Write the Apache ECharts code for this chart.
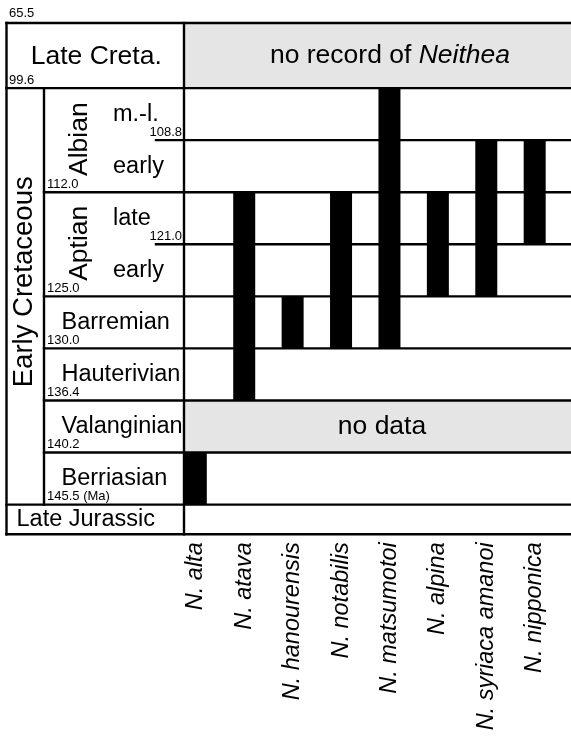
<!DOCTYPE html>
<html><head><meta charset="utf-8">
<script src="https://cdn.jsdelivr.net/npm/echarts@6/dist/echarts.min.js"></script>
<style>html,body{margin:0;padding:0;background:#fff}#c{width:571px;height:742px}</style>
</head><body><div id="c"></div>
<script>
// ---------------- data ----------------
const boundaryAges = ['65.5', '99.6', '108.8', '112.0', '121.0', '125.0', '130.0', '136.4', '140.2', '145.5 (Ma)'];
const intervals = ['m.-l. Albian', 'early Albian', 'late Aptian', 'early Aptian', 'Barremian', 'Hauterivian', 'Valanginian', 'Berriasian'];
const intervalLabels = ['m.-l.', 'early', 'late', 'early', 'Barremian', 'Hauterivian', 'Valanginian', 'Berriasian'];
const stageGroups = ['Albian', 'Aptian'];
const epochs = ['Late Creta.', 'Early Cretaceous', 'Late Jurassic'];
const species = ['N. alta', 'N. atava', 'N. hanourensis', 'N. notabilis', 'N. matsumotoi', 'N. alpina', 'N. syriaca amanoi', 'N. nipponica'];
const rangeTop = ['Berriasian', 'late Aptian', 'Barremian', 'late Aptian', 'm.-l. Albian', 'late Aptian', 'early Albian', 'early Albian'];
const rangeBase = ['Berriasian', 'Hauterivian', 'Barremian', 'Barremian', 'Barremian', 'early Aptian', 'early Aptian', 'late Aptian'];
const noDataIntervals = ['Valanginian'];
const noRecordText = ['no record of ', 'Neithea'];
const noDataText = 'no data';

// ---------------- layout ----------------
const FONT = "'Liberation Sans', Arial, Helvetica, sans-serif";
const ROW_TOP = -1.25, ROW_BOTTOM = 8.57;          // interval-row units
const COL = { left: 6.5, epoch: 44, sub: 156, stage: 184, right: 571 };
const GRID_TOP = 23, GRID_H = 511.3;
const LW = 2.4;

const rangeData = species.map((s, i) => [i, intervals.indexOf(rangeTop[i]), intervals.indexOf(rangeBase[i]) + 1]);

function txt(p, text, size, align, valign, opts) {
  opts = opts || {};
  return {
    type: 'text', x: p[0], y: p[1], rotation: opts.rot || 0,
    style: {
      text: text, x: 0, y: 0, fill: '#000',
      font: (opts.italic ? 'italic ' : '') + size + 'px ' + FONT,
      textAlign: align, textVerticalAlign: valign, align: align, verticalAlign: valign,
      rich: opts.rich
    }
  };
}

function fills(params, api) {
  const P = (x, r) => api.coord([x, r]);
  const ch = [];
  const rect = (x1, r1, x2, r2) => {
    const a = P(x1, r1), b = P(x2, r2);
    ch.push({ type: 'rect', shape: { x: a[0], y: a[1], width: b[0] - a[0], height: b[1] - a[1] }, style: { fill: '#e5e5e5' } });
  };
  rect(COL.stage, ROW_TOP, COL.right, 0);
  noDataIntervals.forEach(n => { const k = intervals.indexOf(n); rect(COL.stage, k, COL.right, k + 1); });
  return { type: 'group', children: ch };
}

function isSubBoundary(k) {
  return k > 0 && k < intervals.length && intervals[k].indexOf(' ') > 0 &&
    intervals[k].split(' ')[1] === intervals[k - 1].split(' ')[1];
}

function structure(params, api) {
  const P = (x, r) => api.coord([x, r]);
  const ch = [];
  const line = (x1, r1, x2, r2) => {
    const a = P(x1, r1), b = P(x2, r2);
    ch.push({ type: 'line', shape: { x1: a[0], y1: a[1], x2: b[0], y2: b[1] }, style: { stroke: '#000', lineWidth: LW, lineCap: 'square' } });
  };
  // horizontal boundaries
  line(COL.left, ROW_TOP, COL.right, ROW_TOP);
  line(COL.left, 0, COL.right, 0);
  for (let k = 1; k < intervals.length; k++) {
    line(isSubBoundary(k) ? COL.sub : COL.epoch, k, COL.right, k);
  }
  line(COL.left, intervals.length, COL.right, intervals.length);
  line(COL.left, ROW_BOTTOM, COL.right, ROW_BOTTOM);
  // verticals
  line(COL.left, ROW_TOP, COL.left, ROW_BOTTOM);
  line(COL.epoch, 0, COL.epoch, intervals.length);
  line(COL.stage, ROW_TOP, COL.stage, ROW_BOTTOM);

  // age labels
  const a0 = P(COL.left + 2.5, ROW_TOP); ch.push(txt([a0[0], a0[1] - 3], boundaryAges[0], 13, 'left', 'bottom'));
  const a1 = P(COL.left + 2.5, 0); ch.push(txt([a1[0], a1[1] - 1.5], boundaryAges[1], 13, 'left', 'bottom'));
  for (let k = 1; k <= intervals.length; k++) {
    const sub = isSubBoundary(k);
    const p = sub ? P(COL.stage - 2, k) : P(COL.epoch + 3, k);
    ch.push(txt([p[0], p[1] - 1.5], boundaryAges[k + 1], 13, sub ? 'right' : 'left', 'bottom'));
  }
  // interval labels
  intervals.forEach((n, k) => {
    const sub = n.indexOf(' ') > 0;
    const p = sub ? P(113, k + 0.5) : P(61.5, k + 0.5);
    ch.push(txt(p, intervalLabels[k], 23.5, 'left', 'middle'));
  });
  // grouped stages (rotated)
  stageGroups.forEach(g => {
    const k = intervals.indexOf('early ' + g);
    const p = P(79.5, k - 0.02);
    ch.push(txt(p, g, 26.5, 'center', 'middle', { rot: Math.PI / 2 }));
  });
  // epochs
  ch.push(txt(P((COL.left + COL.stage) / 2 + 1, ROW_TOP / 2 + 0.02), epochs[0], 26.5, 'center', 'middle'));
  ch.push(txt(P(24.5, 3.72), epochs[1], 27.5, 'center', 'middle', { rot: Math.PI / 2 }));
  ch.push(txt(P(16.5, (intervals.length + ROW_BOTTOM) / 2), epochs[2], 23.5, 'left', 'middle'));
  // gray panel texts
  ch.push(txt(P(390, ROW_TOP / 2), '{a|' + noRecordText[0] + '}{b|' + noRecordText[1] + '}', 26.5, 'center', 'middle', {
    rich: { a: { font: '26.5px ' + FONT, fill: '#000' }, b: { font: 'italic 26.5px ' + FONT, fill: '#000' } }
  }));
  noDataIntervals.forEach(n => { const k = intervals.indexOf(n); ch.push(txt(P(382, k + 0.5), noDataText, 26.5, 'center', 'middle')); });
  return { type: 'group', children: ch };
}

function bars(params, api) {
  const x = api.value(0);
  const a = api.coord([x, api.value(1)]), b = api.coord([x, api.value(2)]);
  return { type: 'rect', shape: { x: a[0] - 11, y: a[1], width: 22, height: b[1] - a[1] }, style: { fill: '#000' } };
}

const chart = echarts.init(document.getElementById('c'), null, { renderer: 'canvas' });
chart.setOption({
  animation: false,
  backgroundColor: '#fff',
  grid: [
    { left: 0, width: 571, top: GRID_TOP, height: GRID_H },
    { left: 171.6, width: 387.3, top: GRID_TOP, height: GRID_H }
  ],
  xAxis: [
    { gridIndex: 0, type: 'value', min: 0, max: 571, show: false },
    {
      gridIndex: 1, type: 'category', data: species, position: 'bottom',
      axisLine: { show: false }, axisTick: { show: false }, splitLine: { show: false },
      axisLabel: { interval: 0, rotate: 90, margin: 8, color: '#000', fontSize: 23.5, fontStyle: 'italic', fontFamily: FONT }
    }
  ],
  yAxis: [
    { gridIndex: 0, type: 'value', min: ROW_TOP, max: ROW_BOTTOM, inverse: true, show: false },
    { gridIndex: 1, type: 'value', min: ROW_TOP, max: ROW_BOTTOM, inverse: true, show: false }
  ],
  series: [
    { type: 'custom', xAxisIndex: 0, yAxisIndex: 0, data: [[0, 0]], renderItem: fills, z: 1, silent: true, clip: false },
    { type: 'custom', xAxisIndex: 1, yAxisIndex: 1, data: rangeData, renderItem: bars, z: 2, silent: true, encode: { x: 0, y: [1, 2] } },
    { type: 'custom', xAxisIndex: 0, yAxisIndex: 0, data: [[0, 0]], renderItem: structure, z: 3, silent: true, clip: false }
  ]
});
</script>
</body></html>
